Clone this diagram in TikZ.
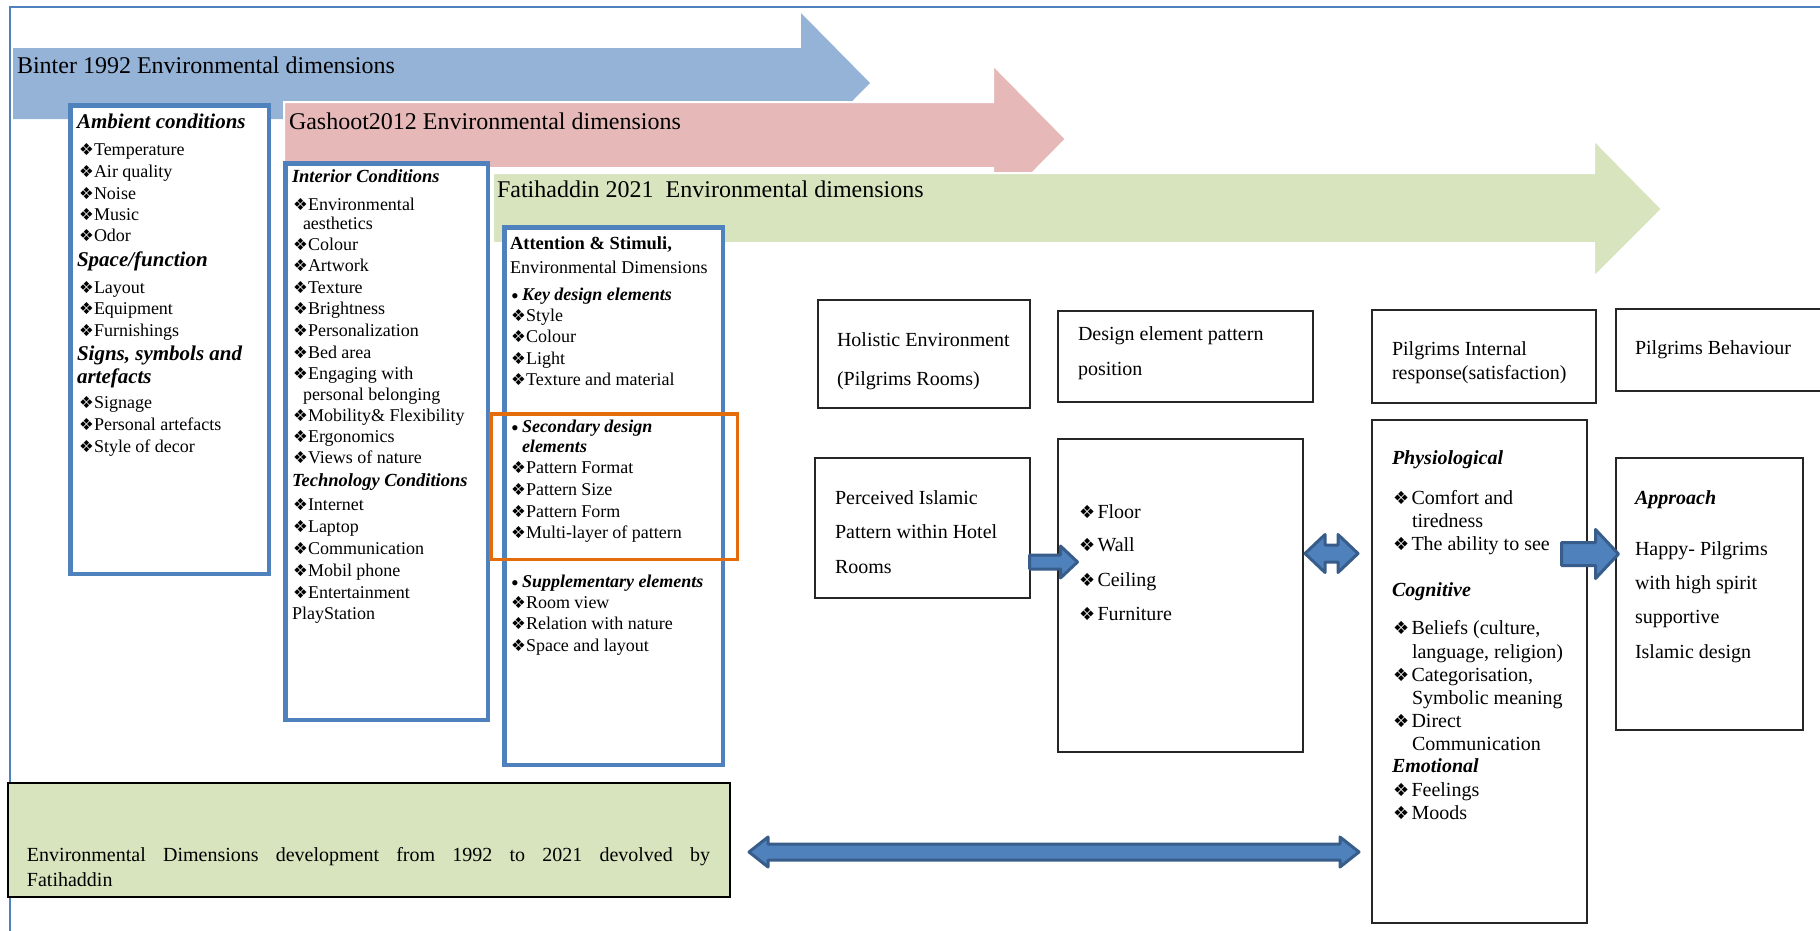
\documentclass[tikz,border=0pt]{standalone}
\usepackage{fontspec}
\setmainfont{Liberation Serif}
\newfontfamily\dejavu{DejaVu Sans}
\usetikzlibrary{calc}
\definecolor{frameblue}{HTML}{4F81BD}
\definecolor{arrblue}{HTML}{95B3D7}
\definecolor{arrpink}{HTML}{E6B9B8}
\definecolor{arrgreen}{HTML}{D7E4BD}
\definecolor{boxblue}{HTML}{4F81BD}
\definecolor{orangeb}{HTML}{E46C0A}
\definecolor{blkfill}{HTML}{4F81BD}
\definecolor{blkdraw}{HTML}{385D8A}
\newcommand\dS{\makebox[15pt][l]{\dejavu\fontsize{16.5}{16.5}\selectfont ❖}}
\newcommand\dL{\makebox[18.5pt][l]{\dejavu\fontsize{18}{18}\selectfont ❖}}
\newcommand\bu{\makebox[11pt][l]{\raisebox{-3pt}{\fontsize{22}{22}\selectfont •}}}
\newcommand\bx[6]{\node[#1, inner sep=0pt, outer sep=0pt, anchor=north west, minimum width={#5-#3}, minimum height={#6-#4}] (#2) at (#3,#4) {};}
\newcommand\sarrow[5]{\path[blockarr] let \p1=(#1), \p2=(#2) in
 (\x1,\y1+#3) -- (\x2-#5,\y1+#3) -- (\x2-#5,\y1+#4) -- (\x2,\y1) -- (\x2-#5,\y1-#4) -- (\x2-#5,\y1-#3) -- (\x1,\y1-#3) -- cycle;}
\newcommand\darrow[5]{\path[blockarr] let \p1=(#1), \p2=(#2) in
 (\x1,\y1) -- (\x1+#5,\y1+#4) -- (\x1+#5,\y1+#3) -- (\x2-#5,\y1+#3) -- (\x2-#5,\y1+#4) -- (\x2,\y1) -- (\x2-#5,\y1-#4) -- (\x2-#5,\y1-#3) -- (\x1+#5,\y1-#3) -- (\x1+#5,\y1-#4) -- cycle;}
\tikzset{
 tx/.style={anchor=base west, inner sep=0pt, outer sep=0pt},
 it/.style={tx, font=\fontsize{18}{21}\selectfont},
 hdA/.style={tx, font=\fontsize{21}{24}\selectfont\bfseries\itshape},
 hdB/.style={tx, font=\fontsize{18.5}{21}\selectfont\bfseries\itshape},
 rt/.style={tx, font=\fontsize{20}{24}\selectfont},
 hdR/.style={tx, font=\fontsize{20}{24}\selectfont\bfseries\itshape},
 ttl/.style={tx, font=\fontsize{24}{28}\selectfont},
 blbox/.style={draw=boxblue, line width=4.5pt, fill=white},
 orbox/.style={draw=orangeb, line width=3.5pt},
 bkbox/.style={draw=black!85, line width=1.5pt, fill=white},
 grbox/.style={draw=black, line width=1.5pt, fill=arrgreen},
 blockarr/.style={fill=blkfill, draw=blkdraw, line width=3pt, line join=round},
}
\begin{document}
\begin{tikzpicture}[x=1pt,y=-1pt]
\useasboundingbox (0,0) rectangle (1820,930);
% frame
\draw[frameblue, line width=2pt] (1825,7) -- (10,7) -- (10,935);
% big background arrows
\fill[arrblue] (13,48) -- (801,48) -- (801,13) -- (870,83) -- (801,153) -- (801,119) -- (13,119) -- cycle;
\filldraw[fill=arrpink, draw=white, line width=2pt] (284,102) -- (993,102) -- (993,65) -- (1066,139) -- (993,213) -- (993,168) -- (284,168) -- cycle;
\filldraw[fill=arrgreen, draw=white, line width=2pt] (493,173) -- (1594,173) -- (1594,140) -- (1662,209) -- (1594,277) -- (1594,243) -- (493,243) -- cycle;
\node[ttl] (ttl1) at (17,73) {Binter 1992 Environmental dimensions};
\node[ttl] (ttl2) at (289,129) {Gashoot2012 Environmental dimensions};
\node[ttl] (ttl3) at (497,197) {Fatihaddin 2021~ Environmental dimensions};
% boxes
\bx{blbox}{amb}{70.25}{105.25}{268.75}{573.75}
\bx{blbox}{int}{285.25}{163.25}{487.75}{719.75}
\bx{blbox}{att}{504.25}{227.25}{722.75}{764.75}
\bx{orbox}{sec}{490.75}{413.75}{737.25}{559.25}
\bx{bkbox}{hol}{818}{300}{1030}{408}
\bx{bkbox}{des}{1058}{311}{1313}{402}
\bx{bkbox}{perc}{815}{458}{1030}{598}
\bx{bkbox}{floor}{1058}{439}{1303}{752}
\bx{bkbox}{pint}{1372}{310}{1596}{403}
\bx{bkbox}{pbeh}{1616}{309}{1830}{391}
\bx{bkbox}{bigint}{1372}{420}{1587}{923}
\bx{bkbox}{appr}{1616}{458}{1803}{730}
\bx{grbox}{gbox}{8}{783}{730}{897}
% Ambient
\node[hdA] (ambh1) at (77,128) {Ambient conditions};
\foreach \y/\t [count=\i] in {155/Temperature,177/Air quality,199/Noise,220/Music,241/Odor}
  \node[it] (amba\i) at (79,\y) {\dS\t};
\node[hdA] (ambh2) at (77,266) {Space/function};
\foreach \y/\t [count=\i] in {293/Layout,314/Equipment,336/Furnishings}
  \node[it] (ambb\i) at (79,\y) {\dS\t};
\node[hdA] (ambh3) at (77,360) {Signs, symbols and};
\node[hdA] (ambh4) at (77,383) {artefacts};
\foreach \y/\t [count=\i] in {408/Signage,430/Personal artefacts,452/Style of decor}
  \node[it] (ambc\i) at (79,\y) {\dS\t};
% Interior
\node[hdB] (inth1) at (292,182) {Interior Conditions};
\foreach \y/\t [count=\i] in {210/Environmental,250/Colour,271.5/Artwork,293/Texture,314/Brightness,336/Personalization,358/Bed area,379/Engaging with,421/Mobility\& Flexibility,442/Ergonomics,463.5/Views of nature}
  \node[it] (inta\i) at (293,\y) {\dS\t};
\node[it] (intc1) at (303,229) {aesthetics};
\node[it] (intc2) at (303,400) {personal belonging};
\node[hdB] (inth2) at (292,486) {Technology Conditions};
\foreach \y/\t [count=\i] in {510/Internet,532.5/Laptop,554/Communication,576/Mobil phone,598/Entertainment}
  \node[it] (intb\i) at (293,\y) {\dS\t};
\node[it] (intc3) at (292,619) {PlayStation};
% Attention
\node[tx, font=\fontsize{18.5}{21}\selectfont\bfseries] (att1) at (510,249) {Attention \& Stimuli,};
\node[it] (att2) at (510,273) {Environmental Dimensions};
\node[it] (att3) at (511,300) {\bu\textbf{\textit{Key design elements}}};
\foreach \y/\t [count=\i] in {321/Style,342/Colour,364/Light,385/Texture and material}
  \node[it] (atta\i) at (511,\y) {\dS\t};
\node[it] (att4) at (511,432.5) {\bu\textbf{\textit{Secondary design}}};
\node[it] (att5) at (522,452.5) {\textbf{\textit{elements}}};
\foreach \y/\t [count=\i] in {473.5/Pattern Format,495.5/Pattern Size,517/Pattern Form,538/Multi-layer of pattern}
  \node[it] (attb\i) at (511,\y) {\dS\t};
\node[it] (att6) at (511,587) {\bu\textbf{\textit{Supplementary elements}}};
\foreach \y/\t [count=\i] in {608/Room view,629.5/Relation with nature,651/Space and layout}
  \node[it] (attc\i) at (511,\y) {\dS\t};
% right side
\node[rt] (holt1) at (837,346) {Holistic Environment};
\node[rt] (holt2) at (837,385) {(Pilgrims Rooms)};
\node[rt] (dest1) at (1078,340) {Design element pattern};
\node[rt] (dest2) at (1078,375) {position};
\node[rt] (perct1) at (835,504) {Perceived Islamic};
\node[rt] (perct2) at (835,538) {Pattern within Hotel};
\node[rt] (perct3) at (835,573) {Rooms};
\foreach \y/\t [count=\i] in {518/Floor,551/Wall,586/Ceiling,620/Furniture}
  \node[rt] (flt\i) at (1079,\y) {\dL\t};
\node[rt] (pintt1) at (1392,355) {Pilgrims Internal};
\node[rt] (pintt2) at (1392,379) {response(satisfaction)};
\node[rt] (pbeht) at (1635,354) {Pilgrims Behaviour};
\node[hdR] (bih1) at (1392,464) {Physiological};
\node[rt] (bia1) at (1393,504) {\dL Comfort and};
\node[rt] (bia2) at (1412,527) {tiredness};
\node[rt] (bia3) at (1393,550) {\dL The ability to see};
\node[hdR] (bih2) at (1392,596) {Cognitive};
\node[rt] (bib1) at (1393,634.5) {\dL Beliefs (culture,};
\node[rt] (bib2) at (1412,658) {language, religion)};
\node[rt] (bib3) at (1393,681) {\dL Categorisation,};
\node[rt] (bib4) at (1412,704) {Symbolic meaning};
\node[rt] (bib5) at (1393,727) {\dL Direct};
\node[rt] (bib6) at (1412,750) {Communication};
\node[hdR] (bih3) at (1392,772.5) {Emotional};
\node[rt] (bic1) at (1393,796) {\dL Feelings};
\node[rt] (bic2) at (1393,819) {\dL Moods};
\node[hdR] (apph) at (1635,504) {Approach};
\node[rt] (appt1) at (1635,555) {Happy- Pilgrims};
\node[rt] (appt2) at (1635,589) {with high spirit};
\node[rt] (appt3) at (1635,623.5) {supportive};
\node[rt] (appt4) at (1635,658) {Islamic design};
% bottom text
\node[rt] (gt1) at (27,861) {\makebox[683pt][s]{Environmental Dimensions development from 1992 to 2021 devolved by}};
\node[rt] (gt2) at (27,886) {Fatihaddin};
% block arrows
\coordinate (c1a) at ($(perc.east)+(-0.5,34)$);
\coordinate (c1b) at ($(floor.west)+(19.5,-33.5)$);
\sarrow{c1a}{c1b}{7pt}{16pt}{17pt}
\coordinate (c2a) at ($(floor.east)+(2,-42)$);
\coordinate (c2b) at ($(bigint.west)+(-14,-118)$);
\darrow{c2a}{c2b}{8.5pt}{19pt}{20pt}
\coordinate (c3a) at ($(bigint.east)+(-25.5,-117.5)$);
\coordinate (c3b) at ($(appr.west)+(2.5,-40)$);
\sarrow{c3a}{c3b}{11.5pt}{24.5pt}{23pt}
\coordinate (c4a) at ($(gbox.east)+(19,12)$);
\coordinate (c4b) at ($(bigint.west)+(-13,180.5)$);
\darrow{c4a}{c4b}{8pt}{15pt}{19pt}
\end{tikzpicture}
\end{document}
